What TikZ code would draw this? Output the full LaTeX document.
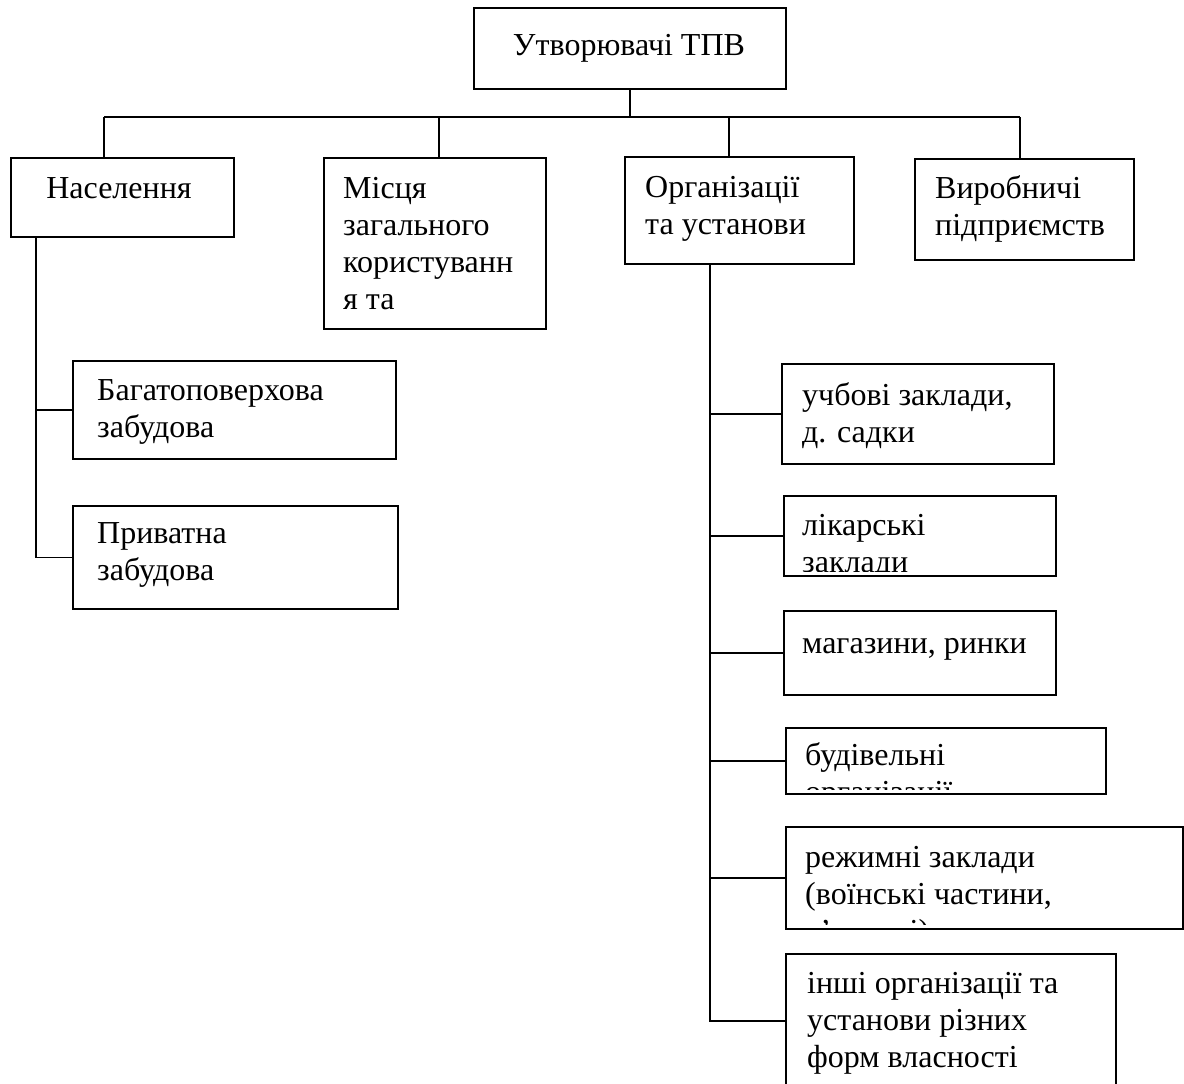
\documentclass[tikz,border=0pt]{standalone}
\usepackage{fontspec}
\setmainfont{Liberation Serif}
\newfontfamily\boxfont{Liberation Serif}
\usetikzlibrary{positioning,calc}

\tikzset{
  unitbox/.style={draw, line width=1.8pt, inner sep=0pt, anchor=north west},
  boxlabel/.style={inner sep=0pt, align=left, font=\boxfont\fontsize{32}{37}\selectfont},
  link/.style={line width=1.8pt}
}

% text of a box, cut off at the box's lower edge
\newcommand{\cliptext}[4]{%
  \begin{scope}
    \clip ([yshift=5pt]#1.south west) rectangle (#1.north east);
    \node[boxlabel, anchor=#2] (#1-text) at (#3) {#4};
  \end{scope}}

\begin{document}
\begin{tikzpicture}[x=1pt,y=-1pt]
    \useasboundingbox (0,0) rectangle (1184,1084);
    \clip (0,0) rectangle (1184,1084);

    % boxes
    \node[unitbox, minimum width=312pt, minimum height=81pt] (top) at (473,7) {};
    \node[unitbox, minimum width=223pt, minimum height=79pt] (pop) at (10,157) {};
    \node[unitbox, minimum width=222pt, minimum height=171pt] (pub) at (323,157) {};
    \node[unitbox, minimum width=229pt, minimum height=107pt] (org) at (624,156) {};
    \node[unitbox, minimum width=219pt, minimum height=101pt] (ind) at (914,158) {};
    \node[unitbox, minimum width=323pt, minimum height=98pt] (multi) at (72,360) {};
    \node[unitbox, minimum width=325pt, minimum height=103pt] (priv) at (72,505) {};
    \node[unitbox, minimum width=272pt, minimum height=100pt] (edu) at (781,363) {};
    \node[unitbox, minimum width=272pt, minimum height=80pt] (med) at (783,495) {};
    \node[unitbox, minimum width=272pt, minimum height=84pt] (shop) at (783,610) {};
    \node[unitbox, minimum width=320pt, minimum height=66pt] (build) at (785,727) {};
    \node[unitbox, minimum width=397pt, minimum height=102pt] (sec) at (785,826) {};
    \node[unitbox, minimum width=330pt, minimum height=134pt] (other) at (785,953) {};

    % texts
    \cliptext{top}{north}{629,29}{\strut Утворювачі ТПВ}
    \cliptext{pop}{north}{119,172}{\strut Населення}
    \cliptext{pub}{north west}{343,172}{\strut Місця\\загального\\користуванн\\я та}
    \cliptext{org}{north west}{645,171}{\strut Організації\\та установи}
    \cliptext{ind}{north west}{935,172}{\strut Виробничі\\підприємств}
    \cliptext{multi}{north west}{97,374}{\strut Багатоповерхова\\забудова}
    \cliptext{priv}{north west}{97,517}{\strut Приватна\\забудова}
    \cliptext{edu}{north west}{802,379}{\strut учбові заклади,\\д. садки}
    \cliptext{med}{north west}{802,509}{\strut лікарські\\заклади}
    \cliptext{shop}{north west}{802,627}{\strut магазини, ринки}
    \cliptext{build}{north west}{805,739}{\strut будівельні\\організації}
    \cliptext{sec}{north west}{805,841}{\strut режимні заклади\\(воїнські частини,\\в’язниці)}
    \cliptext{other}{north west}{807,967}{\strut інші організації та\\установи різних\\форм власності}

    % connectors
    \coordinate (busL) at (104,117);
    \coordinate (busB) at (439,117);
    \coordinate (busC) at (729,117);
    \coordinate (busR) at (1020,117);
    \coordinate (popstem) at (36,236);
    \coordinate (orgstem) at (710,263);
    \draw[link] (top.south) -- (top.south |- busL);
    \draw[link] (busL) -- (busR);
    \draw[link] (busL) -- (busL |- pop.north);
    \draw[link] (busB) -- (busB |- pub.north);
    \draw[link] (busC) -- (busC |- org.north);
    \draw[link] (busR) -- (busR |- ind.north);
    \draw[link] (popstem) |- (multi.west);
    \draw[link] (popstem) |- (priv.west);
    \foreach \leaf in {edu,med,shop,build,sec,other}
        \draw[link] (orgstem) |- (\leaf.west);
\end{tikzpicture}
\end{document}
